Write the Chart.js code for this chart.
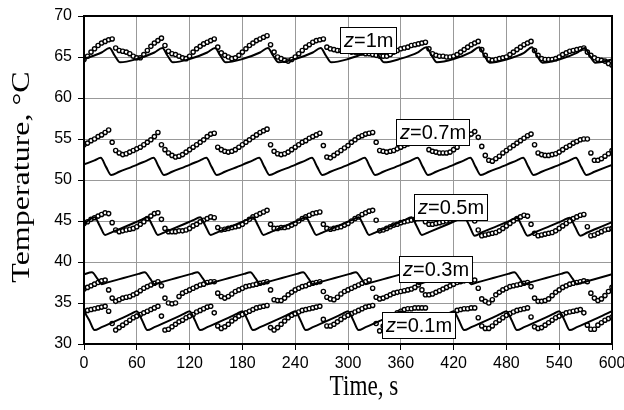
<!DOCTYPE html>
<html>
<head>
<meta charset="utf-8">
<script src="https://cdn.jsdelivr.net/npm/chart.js@4.4.1/dist/chart.umd.min.js"></script>
<style>
  html, body { margin: 0; padding: 0; background: #fff; }
  #wrap { width: 624px; height: 410px; }
</style>
</head>
<body>
<div id="wrap"><canvas id="tempChart" width="624" height="410"></canvas></div>
<script>
// measurement times, s (one sample every 4 s)
const sampleTime = [
  0, 4, 8, 12, 16, 20, 24, 28, 32, 36, 40, 44, 48, 52, 56,
  60, 64, 68, 72, 76, 80, 84, 88, 92, 96, 100, 104, 108, 112, 116,
  120, 124, 128, 132, 136, 140, 144, 148, 152, 156, 160, 164, 168, 172, 176,
  180, 184, 188, 192, 196, 200, 204, 208, 212, 216, 220, 224, 228, 232, 236,
  240, 244, 248, 252, 256, 260, 264, 268, 272, 276, 280, 284, 288, 292, 296,
  300, 304, 308, 312, 316, 320, 324, 328, 332, 336, 340, 344, 348, 352, 356,
  360, 364, 368, 372, 376, 380, 384, 388, 392, 396, 400, 404, 408, 412, 416,
  420, 424, 428, 432, 436, 440, 444, 448, 452, 456, 460, 464, 468, 472, 476,
  480, 484, 488, 492, 496, 500, 504, 508, 512, 516, 520, 524, 528, 532, 536,
  540, 544, 548, 552, 556, 560, 564, 568, 572, 576, 580, 584, 588, 592, 596,
  600
];

// measured temperatures, degC
const measuredZ1 = [
  64.7, 65.1, 65.6, 66.0, 66.4, 66.7, 66.9, 67.1, 67.2, 66.1, 65.8, 65.7, 65.6, 65.4, 65.1,
  64.9, 64.9, 65.3, 65.8, 66.3, 66.7, 67.0, 67.3, 66.4, 65.7, 65.4, 65.3, 65.1, 64.9, 64.8,
  65.1, 65.6, 66.0, 66.3, 66.6, 66.8, 67.0, 67.2, 66.2, 65.5, 65.2, 65.0, 64.8, 64.9, 65.2,
  65.6, 66.0, 66.4, 66.7, 67.0, 67.2, 67.4, 67.6, 66.5, 65.6, 65.0, 64.8, 64.6, 64.5, 64.7,
  65.0, 65.4, 65.8, 66.2, 66.5, 66.8, 67.0, 67.1, 67.2, 66.2, 66.0, 65.9, 65.8, 65.8, 65.7,
  65.7, 65.6, 65.6, 65.5, 65.5, 65.4, 65.4, 65.3, 65.2, 65.1, 65.1, 65.1, 65.3, 65.6, 65.8,
  66.0, 66.1, 66.2, 66.4, 66.5, 66.6, 66.7, 66.8, 66.0, 65.4, 65.2, 65.1, 65.1, 65.0, 65.0,
  65.1, 65.3, 65.6, 65.9, 66.2, 66.5, 66.7, 66.9, 65.9, 65.2, 64.7, 64.6, 64.7, 64.8, 64.9,
  65.0, 65.3, 65.6, 65.9, 66.2, 66.5, 66.7, 66.9, 65.8, 65.2, 64.8, 64.7, 64.7, 64.7, 64.8,
  65.0, 65.3, 65.5, 65.7, 65.8, 65.9, 66.0, 66.1, 65.6, 65.2, 64.9, 64.7, 64.6, 64.5, 64.2,
  64.0
];
const measuredZ07 = [
  54.3, 54.5, 54.8, 55.0, 55.3, 55.5, 55.8, 56.1, 54.6, 53.6, 53.3, 53.1, 53.2, 53.4, 53.6,
  53.8, 54.0, 54.3, 54.6, 54.9, 55.3, 55.8, 54.3, 53.7, 53.3, 53.0, 52.8, 52.9, 53.1, 53.4,
  53.7, 54.0, 54.3, 54.6, 54.9, 55.3, 55.6, 55.7, 54.0, 53.7, 53.5, 53.4, 53.5, 53.7, 54.0,
  54.3, 54.6, 54.9, 55.2, 55.5, 55.8, 56.0, 56.2, 54.3, 53.5, 53.2, 53.1, 53.2, 53.4, 53.7,
  54.0, 54.3, 54.6, 54.8, 55.1, 55.3, 55.5, 55.7, 54.2, 52.8, 52.7, 53.0, 53.3, 53.6, 53.9,
  54.2, 54.6, 54.9, 55.2, 55.4, 55.6, 55.7, 55.8, 54.6, 53.6, 53.5, 53.4, 53.5, 53.6, 53.8,
  54.0, 54.2, 54.4, 54.7, 55.0, 55.3, 55.6, 55.8, 53.7, 53.5, 53.4, 53.3, 53.3, 53.3, 53.4,
  53.7, 54.0, 54.5, 54.9, 55.3, 55.6, 55.9, 55.2, 54.1, 53.0, 52.4, 52.3, 52.6, 52.9, 53.3,
  53.6, 53.9, 54.2, 54.5, 54.8, 55.1, 55.4, 55.6, 54.3, 53.3, 53.1, 53.0, 53.0, 53.1, 53.2,
  53.4, 53.7, 54.0, 54.2, 54.5, 54.7, 54.9, 55.0, 55.0, 53.3, 52.4, 52.4, 52.6, 52.9, 53.2,
  53.6
];
const measuredZ05 = [
  44.7, 44.9, 45.2, 45.4, 45.6, 45.8, 46.0, 45.9, 44.8, 43.9, 43.7, 43.8, 43.9, 44.0, 44.1,
  44.3, 44.6, 44.9, 45.3, 45.6, 45.9, 46.0, 45.2, 44.1, 43.7, 43.7, 43.7, 43.8, 43.8, 43.9,
  44.1, 44.4, 44.6, 44.9, 45.1, 45.3, 45.5, 45.4, 44.2, 43.9, 44.0, 44.1, 44.2, 44.3, 44.4,
  44.6, 44.9, 45.2, 45.5, 45.7, 45.9, 46.1, 46.3, 44.6, 44.1, 44.1, 44.2, 44.2, 44.3, 44.5,
  44.7, 45.0, 45.3, 45.5, 45.7, 45.9, 46.0, 46.1, 44.6, 44.1, 44.0, 44.1, 44.2, 44.3, 44.5,
  44.7, 45.0, 45.3, 45.5, 45.8, 46.0, 46.2, 46.3, 45.1, 43.8, 43.9, 44.1, 44.3, 44.5, 44.6,
  44.8, 44.9, 45.0, 45.1, 45.2, 45.3, 45.4, 44.9, 44.6, 44.6, 44.7, 44.8, 44.9, 45.0, 45.1,
  45.3, 45.5, 45.7, 45.9, 46.0, 45.7, 45.0, 43.9, 43.2, 43.3, 43.4, 43.5, 43.6, 43.8, 44.1,
  44.4, 44.7, 45.0, 45.3, 45.5, 45.7, 45.6, 44.6, 43.5, 43.2, 43.3, 43.4, 43.5, 43.6, 43.8,
  44.1, 44.4, 44.7, 45.0, 45.3, 45.5, 45.7, 45.8, 44.3, 43.2, 43.3, 43.5, 43.7, 43.9, 44.0,
  44.1
];
const measuredZ03 = [
  36.7, 36.9, 37.1, 37.3, 37.5, 37.7, 37.8, 36.6, 35.6, 35.2, 35.4, 35.6, 35.7, 35.8, 36.0,
  36.2, 36.5, 36.8, 37.0, 37.2, 37.4, 37.6, 37.1, 35.6, 35.0, 34.9, 35.0, 35.8, 36.2, 36.4,
  36.6, 36.8, 37.0, 37.2, 37.3, 37.5, 37.6, 37.6, 36.2, 35.8, 35.6, 35.8, 36.1, 36.4, 36.6,
  36.8, 37.0, 37.1, 37.2, 37.3, 37.4, 37.5, 37.6, 36.6, 35.4, 35.3, 35.3, 35.6, 36.0, 36.3,
  36.6, 36.8, 37.0, 37.1, 37.3, 37.4, 37.5, 37.6, 36.4, 35.7, 35.5, 35.4, 35.7, 36.1, 36.4,
  36.6, 36.8, 37.0, 37.2, 37.4, 37.6, 37.8, 36.8, 35.7, 35.5, 35.6, 35.8, 36.0, 36.2, 36.3,
  36.4, 36.5, 36.6, 36.7, 36.9, 37.2, 36.6, 36.0, 36.0, 36.1, 36.3, 36.5, 36.7, 36.9, 37.1,
  37.3, 37.5, 37.6, 37.7, 37.8, 37.8, 37.8, 36.8, 35.5, 35.2, 35.0, 35.4, 36.0, 36.3, 36.6,
  36.8, 37.0, 37.1, 37.2, 37.3, 37.4, 37.5, 37.0, 35.6, 35.2, 35.2, 35.3, 35.5, 35.9, 36.3,
  36.6, 36.9, 37.1, 37.3, 37.4, 37.5, 37.6, 37.7, 37.6, 36.2, 35.6, 35.3, 35.5, 35.9, 36.4,
  36.9
];
const measuredZ01 = [
  33.9, 34.1, 34.2, 34.3, 34.4, 34.5, 34.6, 34.0, 32.5, 31.7, 32.0, 32.3, 32.6, 32.9, 33.2,
  33.4, 33.6, 33.8, 34.0, 34.2, 34.4, 34.6, 33.4, 31.7, 31.8, 32.1, 32.4, 32.7, 32.9, 33.2,
  33.4, 33.6, 33.9, 34.1, 34.3, 34.5, 34.6, 33.8, 32.2, 31.9, 32.1, 32.4, 32.8, 33.1, 33.4,
  33.6, 33.8, 34.0, 34.2, 34.4, 34.5, 34.6, 34.7, 32.0, 31.7, 32.0, 32.4, 32.8, 33.2, 33.5,
  33.7, 33.9, 34.1, 34.2, 34.3, 34.4, 34.5, 34.6, 33.0, 32.2, 32.2, 32.4, 32.7, 33.0, 33.3,
  33.5, 33.7, 33.9, 34.1, 34.3, 34.5, 34.6, 34.7, 32.5, 31.6, 32.2, 32.7, 33.1, 33.5, 33.8,
  34.0, 34.2, 34.3, 34.3, 34.4, 34.4, 34.4, 34.4, 33.2, 32.0, 32.0, 32.2, 32.5, 32.9, 33.3,
  33.7, 34.1, 34.2, 34.3, 34.3, 34.4, 34.4, 33.2, 32.2, 31.9, 31.9, 32.2, 32.6, 32.9, 33.2,
  33.5, 33.7, 33.9, 34.1, 34.2, 34.3, 34.4, 33.3, 32.1, 31.9, 32.0, 32.3, 32.6, 32.9, 33.2,
  33.4, 33.6, 33.8, 33.9, 34.0, 34.1, 34.2, 33.8, 32.3, 31.8, 31.8, 32.3, 32.6, 32.9, 33.1,
  33.3
];

// model curves, [time s, temperature degC]
const modelZ1 = [
  [0, 64.75], [20, 65.55], [29, 66.1], [35, 65.15],
  [41, 64.35], [60, 64.75], [80, 65.55], [89, 66.1], [95, 65.15],
  [101, 64.35], [120, 64.75], [140, 65.55], [149, 66.1], [155, 65.15],
  [161, 64.35], [180, 64.75], [200, 65.55], [209, 66.1], [215, 65.15],
  [221, 64.35], [240, 64.75], [260, 65.55], [269, 66.1], [275, 65.15],
  [281, 64.35], [300, 64.75], [320, 65.55], [329, 66.1], [335, 65.15],
  [341, 64.35], [360, 64.8], [380, 65.6], [389, 66.2], [395, 65.2],
  [401, 64.35], [420, 64.75], [440, 65.6], [449, 66.2], [455, 65.15],
  [461, 64.3], [480, 64.7], [500, 65.5], [509, 66.2], [515, 65.1],
  [521, 64.3], [540, 64.7], [560, 65.5], [569, 66.1], [575, 65.1],
  [581, 64.3], [600, 64.7]
];
const modelZ07 = [
  [0, 51.9], [12, 52.4], [19, 52.7], [25, 51.6],
  [31, 50.6], [40, 51.0], [60, 51.85], [72, 52.4], [79, 52.7], [85, 51.6],
  [91, 50.6], [100, 51.0], [120, 51.85], [132, 52.4], [139, 52.7], [145, 51.6],
  [151, 50.6], [160, 51.0], [180, 51.85], [192, 52.4], [199, 52.7], [205, 51.6],
  [211, 50.6], [220, 51.0], [240, 51.85], [252, 52.4], [259, 52.7], [265, 51.6],
  [271, 50.6], [280, 51.0], [300, 51.85], [312, 52.4], [319, 52.7], [325, 51.6],
  [331, 50.6], [340, 51.0], [360, 51.85], [372, 52.4], [379, 52.7], [385, 51.6],
  [391, 50.6], [400, 51.0], [420, 51.85], [432, 52.4], [439, 52.7], [445, 51.6],
  [451, 50.6], [460, 51.0], [480, 51.85], [492, 52.4], [499, 52.7], [505, 51.6],
  [511, 50.6], [520, 51.0], [540, 51.85], [552, 52.4], [559, 52.7], [565, 51.6],
  [571, 50.6], [580, 51.0], [600, 51.85]
];
const modelZ05 = [
  [0, 44.65], [12, 45.45], [18, 44.4],
  [24, 43.3], [32, 43.65], [50, 44.45], [64, 45.1], [72, 45.45], [78, 44.4],
  [84, 43.3], [92, 43.65], [110, 44.45], [124, 45.1], [132, 45.45], [138, 44.4],
  [144, 43.3], [152, 43.65], [170, 44.45], [184, 45.1], [192, 45.45], [198, 44.4],
  [204, 43.3], [212, 43.65], [230, 44.45], [244, 45.1], [252, 45.45], [258, 44.4],
  [264, 43.3], [272, 43.65], [290, 44.45], [304, 45.1], [312, 45.45], [318, 44.4],
  [324, 43.3], [332, 43.65], [350, 44.45], [364, 45.1], [372, 45.45], [378, 44.4],
  [384, 43.3], [392, 43.65], [410, 44.45], [424, 45.1], [432, 45.45], [438, 44.4],
  [444, 43.2], [452, 43.6], [470, 44.4], [484, 45.05], [492, 45.4], [498, 44.3],
  [504, 43.2], [512, 43.6], [530, 44.4], [544, 45.05], [552, 45.4], [558, 44.3],
  [564, 43.2], [572, 43.6], [590, 44.4], [600, 44.85]
];
const modelZ03 = [
  [0, 38.5], [9, 38.75], [15, 38.0],
  [20, 37.3], [28, 37.55], [45, 38.05], [62, 38.55], [69, 38.75], [75, 38.0],
  [80, 37.3], [88, 37.55], [105, 38.05], [122, 38.55], [129, 38.75], [135, 38.0],
  [140, 37.3], [148, 37.55], [165, 38.05], [182, 38.55], [189, 38.75], [195, 38.0],
  [200, 37.3], [208, 37.55], [225, 38.05], [242, 38.55], [249, 38.75], [255, 38.0],
  [260, 37.3], [268, 37.55], [285, 38.05], [302, 38.55], [309, 38.75], [315, 38.0],
  [320, 37.3], [328, 37.55], [345, 38.05], [362, 38.55], [369, 38.75], [375, 38.0],
  [380, 37.3], [388, 37.55], [405, 38.05], [422, 38.55], [429, 38.75], [435, 38.0],
  [440, 37.3], [448, 37.55], [465, 38.05], [482, 38.55], [489, 38.75], [495, 38.0],
  [500, 37.3], [508, 37.55], [525, 38.05], [542, 38.55], [549, 38.75], [555, 38.0],
  [560, 37.3], [568, 37.55], [585, 38.05], [600, 38.5]
];
const modelZ01 = [
  [0, 34.0], [6, 32.9], [12, 31.7], [20, 32.05], [40, 33.0], [54, 33.7],
  [60, 34.0], [66, 32.9], [72, 31.7], [80, 32.05], [100, 33.0], [114, 33.7],
  [120, 34.0], [126, 32.9], [132, 31.7], [140, 32.05], [160, 33.0], [174, 33.7],
  [180, 34.0], [186, 32.9], [192, 31.7], [200, 32.05], [220, 33.0], [234, 33.7],
  [240, 34.0], [246, 32.9], [252, 31.7], [260, 32.05], [280, 33.0], [294, 33.7],
  [300, 34.0], [306, 32.9], [312, 31.7], [320, 32.05], [340, 33.0], [354, 33.7],
  [360, 34.0], [366, 32.9], [372, 31.7], [380, 32.05], [400, 33.0], [414, 33.7],
  [420, 34.0], [426, 32.9], [432, 31.7], [440, 32.05], [460, 33.0], [474, 33.7],
  [480, 34.0], [486, 32.9], [492, 31.7], [500, 32.05], [520, 33.0], [534, 33.7],
  [540, 34.0], [546, 32.9], [552, 31.7], [560, 32.05], [580, 33.0], [594, 33.7],
  [600, 34.0]
];

// depth labels: text and anchor (time, temperature) of the box centre
const labelDepth = ["1", "0.7", "0.5", "0.3", "0.1"];
const labelTime = [323, 396, 416, 399, 380];
const labelTemp = [67.05, 55.9, 46.7, 39.2, 32.3];

const xTicks = { min: 0, max: 600, step: 60 };
const yTicks = { min: 30, max: 70, step: 5 };

const SANS = "'Liberation Sans', Arial, sans-serif";
const SERIF = "'Liberation Serif', 'Times New Roman', serif";

function toPoints(values) {
  return sampleTime.map((t, i) => ({ x: t, y: values[i] }));
}

function toLine(pairs) {
  return pairs.map(([t, v]) => ({ x: t, y: v }));
}

function modelSet(pairs) {
  return {
    data: toLine(pairs),
    showLine: true,
    borderColor: "#000",
    borderWidth: 2,
    pointRadius: 0,
    cubicInterpolationMode: "monotone"
  };
}

function measuredSet(values) {
  return {
    data: toPoints(values),
    showLine: false,
    pointRadius: 2.1,
    pointBorderWidth: 1.4,
    pointBorderColor: "#000",
    pointBackgroundColor: "#fff"
  };
}

const overlay = {
  id: "overlay",
  afterDatasetsDraw(chart) {
    const { ctx, chartArea, scales } = chart;
    ctx.save();

    labelDepth.forEach((depth, i) => {
      const cx = scales.x.getPixelForValue(labelTime[i]);
      const cy = scales.y.getPixelForValue(labelTemp[i]);
      const rest = "=" + depth + "m";
      ctx.font = "italic 20px " + SANS;
      const zW = ctx.measureText("z").width;
      ctx.font = "20px " + SANS;
      const restW = ctx.measureText(rest).width;
      const w = Math.round(zW + restW + 7);
      const h = 26;
      const left = Math.round(cx - w / 2) + 0.5;
      const top = Math.round(cy - h / 2) + 0.5;
      ctx.fillStyle = "#fff";
      ctx.fillRect(left, top, w, h);
      ctx.strokeStyle = "#000";
      ctx.lineWidth = 1;
      ctx.strokeRect(left, top, w, h);
      ctx.fillStyle = "#000";
      ctx.textAlign = "left";
      ctx.textBaseline = "middle";
      ctx.font = "italic 20px " + SANS;
      ctx.fillText("z", left + 3.5, top + h / 2 + 1);
      ctx.font = "20px " + SANS;
      ctx.fillText(rest, left + 3.5 + zW, top + h / 2 + 1);
    });

    ctx.strokeStyle = "#000";
    ctx.lineWidth = 2;
    ctx.strokeRect(chartArea.left, chartArea.top, chartArea.width, chartArea.height);
    ctx.restore();
  },
  afterDraw(chart) {
    const { ctx } = chart;
    ctx.save();
    ctx.fillStyle = "#000";
    ctx.textAlign = "center";
    ctx.textBaseline = "middle";
    ctx.font = "29px " + SERIF;

    ctx.save();
    ctx.translate(364, 387);
    ctx.scale(0.8, 1);
    ctx.fillText("Time, s", 0, 0);
    ctx.restore();

    ctx.save();
    ctx.translate(22, 177);
    ctx.scale(0.8, 1);
    ctx.rotate(-Math.PI / 2);
    ctx.font = "32px " + SERIF;
    ctx.fillText("Temperature, \u00B0C", 0, 0);
    ctx.restore();

    ctx.restore();
  }
};

const chart = new Chart(document.getElementById("tempChart"), {
  type: "scatter",
  data: {
    datasets: [
      modelSet(modelZ1),
      modelSet(modelZ07),
      modelSet(modelZ05),
      modelSet(modelZ03),
      modelSet(modelZ01),
      measuredSet(measuredZ1),
      measuredSet(measuredZ07),
      measuredSet(measuredZ05),
      measuredSet(measuredZ03),
      measuredSet(measuredZ01)
    ]
  },
  options: {
    responsive: false,
    animation: false,
    devicePixelRatio: 1,
    layout: { padding: { top: 16, right: 12, left: 0, bottom: 0 } },
    plugins: {
      legend: { display: false },
      tooltip: { enabled: false }
    },
    scales: {
      x: {
        type: "linear",
        min: xTicks.min,
        max: xTicks.max,
        border: { display: false },
        grid: { color: "#999", lineWidth: 1, tickLength: 6, tickColor: "#000" },
        ticks: {
          stepSize: xTicks.step,
          color: "#000",
          padding: 4,
          maxRotation: 0,
          font: { family: SANS, size: 16 }
        },
        afterFit(scale) {
          scale.height = 66;
          scale.paddingLeft = 0;
          scale.paddingRight = 0;
        }
      },
      y: {
        type: "linear",
        min: yTicks.min,
        max: yTicks.max,
        border: { display: false },
        grid: { color: "#999", lineWidth: 1, tickLength: 6, tickColor: "#000" },
        ticks: {
          stepSize: yTicks.step,
          color: "#000",
          padding: 6,
          font: { family: SANS, size: 16 }
        },
        afterFit(scale) {
          scale.width = 84;
          scale.paddingTop = 0;
          scale.paddingBottom = 0;
        }
      }
    }
  },
  plugins: [overlay]
});
</script>
</body>
</html>
